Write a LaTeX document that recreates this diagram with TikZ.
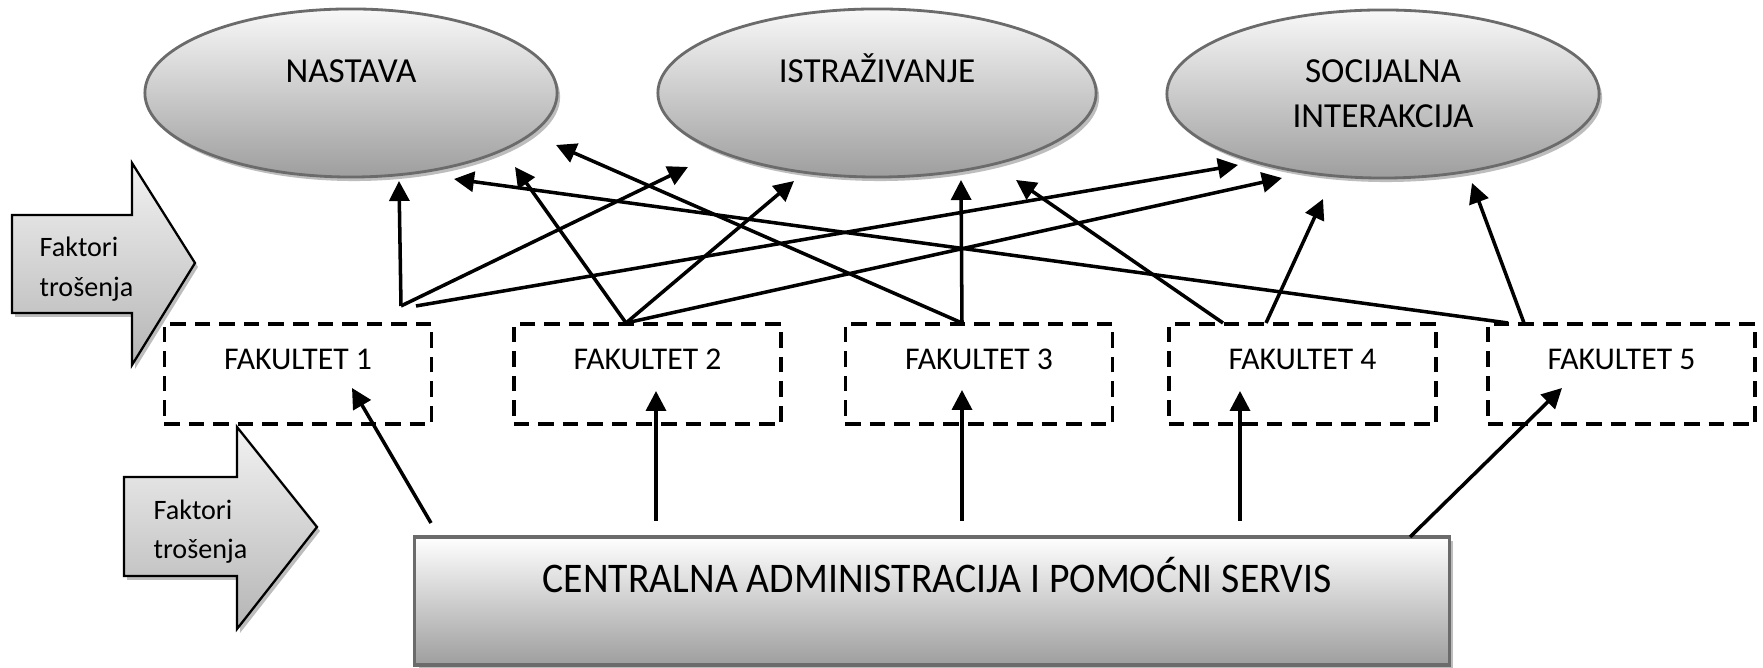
\documentclass[tikz,border=0pt]{standalone}
\usepackage{fontspec}
\setmainfont{Carlito}
\usetikzlibrary{arrows.meta,shapes.geometric}

\definecolor{rimgray}{HTML}{6B6B6B}
\definecolor{topfill}{HTML}{F8F8F8}
\definecolor{lowfill}{HTML}{9E9E9E}
\definecolor{dropgray}{HTML}{BDBDBD}
\definecolor{arrowtop}{HTML}{F2F2F2}
\definecolor{arrowlow}{HTML}{B5B5B5}

\tikzset{
  topic/.style={ellipse, draw=rimgray, line width=0.8pt, top color=topfill,
    bottom color=lowfill, inner sep=0pt, minimum height=1.68cm},
  topicshadow/.style={ellipse, fill=dropgray, draw=none, inner sep=0pt,
    minimum height=1.68cm},
  faculty/.style={rectangle, draw=black, line width=1.05pt,
    dash pattern=on 0.155cm off 0.09cm, minimum width=2.67cm,
    minimum height=1.0cm, inner sep=0pt},
  centre/.style={rectangle, draw=rimgray, line width=0.95pt, top color=white,
    bottom color=lowfill, minimum width=10.34cm, minimum height=1.28cm,
    inner sep=0pt},
  centreshadow/.style={rectangle, fill=dropgray, minimum width=10.34cm,
    minimum height=1.28cm, inner sep=0pt},
  bigarrow/.style={draw=black, line width=0.65pt, top color=arrowtop,
    bottom color=arrowlow},
  link/.style={draw=black, line width=1pt,
    -{Triangle[length=0.2cm,width=0.2cm]}},
  topictext/.style={font=\fontsize{10}{12}\selectfont, anchor=base, inner sep=0pt},
  factext/.style={font=\fontsize{9}{11}\selectfont, anchor=base, inner sep=0pt},
  sidetext/.style={font=\fontsize{8}{10}\selectfont, anchor=base west, inner sep=0pt},
  centretext/.style={font=\fontsize{12}{14}\selectfont, anchor=base, inner sep=0pt},
}

\begin{document}
\begin{tikzpicture}[x=0.01cm,y=-0.01cm]
\fill[white] (0,0) rectangle (1763,668);
\useasboundingbox (0,0) rectangle (1763,668);

% --- activity ellipses (with drop shadows) ---
\node[topicshadow, minimum width=4.12cm] (nastS) at (354,97) {};
\node[topicshadow, minimum width=4.38cm] (istrS) at (880,97) {};
\node[topicshadow, minimum width=4.32cm] (socS)  at (1386,98) {};
\node[topic, minimum width=4.12cm] (nast) at (351,93) {};
\node[topic, minimum width=4.38cm] (istr) at (877,93) {};
\node[topic, minimum width=4.32cm] (soc)  at (1383,94) {};
\node[topictext] (nastT) at (351,83) {NASTAVA};
\node[topictext] (istrT) at (877,83) {ISTRAŽIVANJE};
\node[topictext] (socT1) at (1383,83) {SOCIJALNA};
\node[topictext] (socT2) at (1383,128) {INTERAKCIJA};

% --- cost-driver arrows ---
\path[fill=dropgray, shift={(3,4)}]
  (12,215) -- (132,215) -- (132,163) -- (195,263) -- (132,365) -- (132,313) -- (12,313) -- cycle;
\path[bigarrow]
  (12,215) -- (132,215) -- (132,163) -- (195,263) -- (132,365) -- (132,313) -- (12,313) -- cycle;
\node[sidetext] (dr1a) at (39,257) {Faktori};
\node[sidetext] (dr1b) at (39,297) {trošenja};

\path[fill=dropgray, shift={(3,4)}]
  (124,477) -- (237,477) -- (237,427) -- (317,527) -- (237,629) -- (237,576) -- (124,576) -- cycle;
\path[bigarrow]
  (124,477) -- (237,477) -- (237,427) -- (317,527) -- (237,629) -- (237,576) -- (124,576) -- cycle;
\node[sidetext] (dr2a) at (153,520) {Faktori};
\node[sidetext] (dr2b) at (153,559) {trošenja};

% --- faculties ---
\node[faculty] (f1) at (298,374) {};
\node[faculty] (f2) at (647.5,374) {};
\node[faculty] (f3) at (979,374) {};
\node[faculty] (f4) at (1302.5,374) {};
\node[faculty] (f5) at (1621.5,374) {};
\node[factext] (f1T) at (298,370) {FAKULTET 1};
\node[factext] (f2T) at (647.5,370) {FAKULTET 2};
\node[factext] (f3T) at (979,370) {FAKULTET 3};
\node[factext] (f4T) at (1302.5,370) {FAKULTET 4};
\node[factext] (f5T) at (1621.5,370) {FAKULTET 5};

% --- central administration ---
\node[centreshadow] (casS) at (936,605) {};
\node[centre] (cas) at (932,601) {};
\node[centretext] (casT) at (937,593) {\scalebox{0.94}[1]{CENTRALNA ADMINISTRACIJA I POMOĆNI SERVIS}};

% --- connector ends ---
\coordinate (f1u) at (401,306);
\coordinate (f1v) at (416,306);
\coordinate (f2u) at (626,323);
\coordinate (f3u) at (962,323);
\coordinate (f4u) at (1223,323);
\coordinate (f4v) at (1266,323);
\coordinate (f5u) at (1508,323);
\coordinate (f5v) at (1524,323);

\coordinate (nA) at (399,181);
\coordinate (nB) at (454,179);
\coordinate (nC) at (515,167);
\coordinate (nD) at (556,145);
\coordinate (iA) at (688,167);
\coordinate (iB) at (794,181);
\coordinate (iC) at (961,180);
\coordinate (iD) at (1016,180);
\coordinate (sA) at (1238,165);
\coordinate (sB) at (1282,178);
\coordinate (sC) at (1323,199);
\coordinate (sD) at (1472,183);

\coordinate (c1) at (431,523);
\coordinate (c2) at (656,521);
\coordinate (c3) at (962,521);
\coordinate (c4) at (1240,521);
\coordinate (c5) at (1410,537);
\coordinate (in1) at (352,388);
\coordinate (in2) at (656,391);
\coordinate (in3) at (962,390);
\coordinate (in4) at (1240,391);
\coordinate (in5) at (1562,388);

% --- faculties to activities ---
\draw[link] (f1u) -- (nA);
\draw[link] (f1u) -- (iA);
\draw[link] (f1v) -- (sA);
\draw[link] (f2u) -- (nC);
\draw[link] (f2u) -- (iB);
\draw[link] (f2u) -- (sB);
\draw[link] (f3u) -- (nD);
\draw[link] (f3u) -- (iC);
\draw[link] (f4u) -- (iD);
\draw[link] (f4v) -- (sC);
\draw[link] (f5u) -- (nB);
\draw[link] (f5v) -- (sD);

% --- central services to faculties ---
\draw[link] (c1) -- (in1);
\draw[link] (c2) -- (in2);
\draw[link] (c3) -- (in3);
\draw[link] (c4) -- (in4);
\draw[link] (c5) -- (in5);
\end{tikzpicture}
\end{document}
